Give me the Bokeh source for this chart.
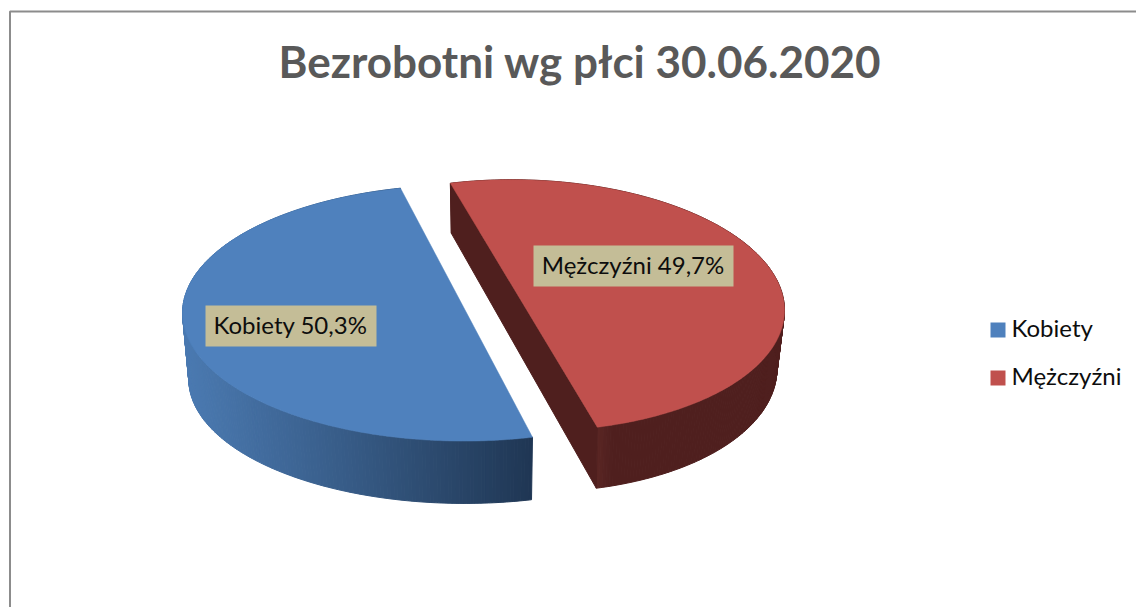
import numpy as np
from bokeh.plotting import figure
from bokeh.models import Range1d
from bokeh.core.properties import value
from bokeh.embed import file_html
from bokeh.resources import INLINE

title_text = "Bezrobotni wg płci 30.06.2020"
categories = ["Kobiety", "Mężczyźni"]
percent = [50.3, 49.7]
top_colors = ["#4f81bd", "#c0504d"]
legend_y = [329.5, 377.5]

# frame in picture pixels: the range runs the same way as the picture
p = figure(width=1136, height=607, x_range=Range1d(0, 1136), y_range=Range1d(607, 0),
           output_backend="svg", toolbar_location=None, x_axis_type=None, y_axis_type=None,
           min_border=0, outline_line_color=None)
p.grid.visible = False

def mix(a, b, f):
    a = [int(a[i:i+2], 16) for i in (1, 3, 5)]
    b = [int(b[i:i+2], 16) for i in (1, 3, 5)]
    return "#%02x%02x%02x" % tuple(int(round(x + (y - x) * f)) for x, y in zip(a, b))

def rim(c, u, v, th):
    return c[0] + u[0] * np.cos(th) + v[0] * np.sin(th), c[1] + u[1] * np.cos(th) + v[1] * np.sin(th)

# projected geometry of each exploded slice (centre, conjugate radii), top and bottom faces
geom = [
    dict(c=(463.4, 312.5), u=(66, 124.5), v=(-273.5, 30), cb=(464, 379), ub=(64.5, 120.5), vb=(-268, 29)),
    dict(c=(521, 305), u=(73.5, 122), v=(252.5, -30.6), cb=(521, 360.5), ub=(72.5, 127.5), vb=(245, -30)),
]

# Slice sweeps come from the values
def sweep(i, n=240):
    s = percent[i] / sum(percent) * 2 * np.pi
    off = (np.pi - s) / 2
    return np.linspace(off, off + s, n)

def wall_color(i, x):
    if i == 0:
        f = np.clip((x - 185) / (532 - 185), 0, 1)
        return mix("#4a79b0", "#1f3653", f ** 1.05)
    f = np.clip((x - 597) / 16, 0, 1)
    return mix("#5a2624", "#4f1f1e", f)

for i, g in enumerate(geom):
    th = sweep(i)
    tx, ty = rim(g["c"], g["u"], g["v"], th)
    bx, by = rim(g["cb"], g["ub"], g["vb"], th)
    xs, ys, cols = [], [], []
    for k in range(len(th) - 1):
        xs.append([tx[k], tx[k+1], bx[k+1], bx[k]])
        ys.append([ty[k], ty[k+1], by[k+1], by[k]])
        cols.append(wall_color(i, (tx[k] + tx[k+1]) / 2))
    p.patches(xs, ys, fill_color=cols, line_color=cols, line_width=1)
    if i == 1:
        # visible cut face of the right slice
        p.patch([tx[0], tx[-1], bx[-1], bx[0]], [ty[0], ty[-1], by[-1], by[0]],
                fill_color="#4f1f1e", line_color="#4f1f1e", line_width=1)
    p.patch(list(tx), list(ty), fill_color=top_colors[i], line_color=top_colors[i], line_width=0.5)

# data labels
boxes = [(205, 376, 305, 346), (533, 733, 245, 286)]
for cat, val, (l, r, t, b) in zip(categories, percent, boxes):
    p.quad(left=[l], right=[r], top=[t], bottom=[b], fill_color="#c4bd97", line_color=None)
    p.text(x=[(l + r) / 2 - 0.5], y=[(t + b) / 2 - 1.5], text=[f"{cat} {val:.1f}%".replace(".", ",")],
           text_font=value("Lato"), text_font_size="24px", text_color="#0d0d0d",
           text_align="center", text_baseline="middle")

# legend
for cat, col, y in zip(categories, top_colors, legend_y):
    p.quad(left=[990], right=[1005], top=[y - 7.5], bottom=[y + 7.5], fill_color=col, line_color=None)
    p.text(x=[1011], y=[y - 2.5], text=[cat], text_font=value("Lato"), text_font_size="24px",
           text_color="#0d0d0d", text_align="left", text_baseline="middle")

# title
p.text(x=[579.5], y=[60.5], text=[title_text], text_font=value("Lato"), text_font_size="44px",
       text_font_style="bold", text_color="#595959", text_align="center", text_baseline="middle")

# chart border (runs off the window on the right and bottom)
p.line([9.5, 9.5, 1136], [607, 11, 11], line_color="#8c8c8c", line_width=2)

open("out.html", "w").write(file_html(p, INLINE))
